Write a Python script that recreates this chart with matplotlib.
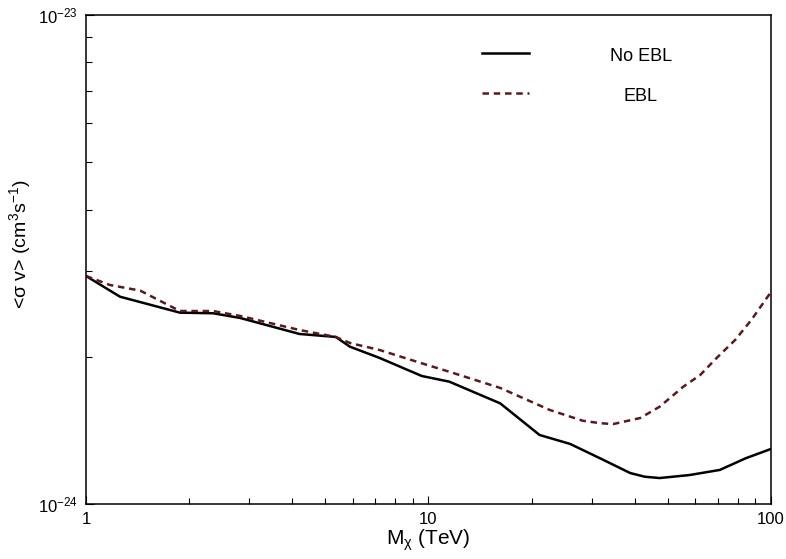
import matplotlib
matplotlib.use("Agg")
import matplotlib.pyplot as plt
from matplotlib.ticker import LogLocator, LogFormatterMathtext, NullFormatter, FixedLocator, FixedFormatter

plt.rcParams['font.family'] = ['Liberation Sans', 'DejaVu Sans']
plt.rcParams['mathtext.fontset'] = 'custom'
plt.rcParams['mathtext.rm'] = 'Liberation Sans'
plt.rcParams['mathtext.it'] = 'Liberation Sans:italic'
plt.rcParams['mathtext.default'] = 'regular'

# Data (M in TeV, <sigma v> in units of 1e-24 cm^3 s^-1)
m_noebl = [1.0, 1.257, 1.88, 2.35, 2.82, 4.2, 5.36, 5.9, 7.2, 9.56, 11.5, 16.2,
           21.1, 25.9, 31.7, 38.8, 42.8, 47.3, 57.8, 70.9, 84.3, 100.0]
sv_noebl = [2.926, 2.654, 2.462, 2.455, 2.401, 2.227, 2.196, 2.097, 1.989, 1.827, 1.779, 1.606,
            1.384, 1.327, 1.240, 1.157, 1.137, 1.130, 1.146, 1.174, 1.240, 1.296]

m_ebl = [1.0, 1.175, 1.44, 1.88, 2.35, 2.82, 4.2, 5.36, 5.9, 7.2, 9.44, 11.5, 16.2,
         22.6, 28.2, 31.7, 34.6, 41.5, 47.3, 55.5, 62.1, 69.4, 78.6, 87.6, 100.0]
sv_ebl = [2.926, 2.804, 2.731, 2.481, 2.481, 2.424, 2.269, 2.196, 2.134, 2.065, 1.945, 1.864, 1.727,
          1.557, 1.480, 1.463, 1.457, 1.499, 1.581, 1.738, 1.835, 1.989, 2.165, 2.378, 2.714]

scale = 1e-24
labels = ["No EBL", "EBL"]
ebl_color = '#5a1a1c'

fig = plt.figure(figsize=(7.86, 5.59), dpi=100)
ax = fig.add_axes([0.1094, 0.0984, 0.8715, 0.8748])

ax.plot(m_noebl, [v * scale for v in sv_noebl], color='black', lw=1.8,
        solid_joinstyle='round')
ax.plot(m_ebl, [v * scale for v in sv_ebl], color=ebl_color, lw=1.8, dashes=(2.6, 1.9))

ax.set_xscale('log')
ax.set_yscale('log')
ax.set_xlim(1, 100)
ax.set_ylim(1e-24, 1e-23)

ax.xaxis.set_major_locator(FixedLocator([1, 10, 100]))
ax.xaxis.set_major_formatter(FixedFormatter(['1', '10', '100']))
ax.xaxis.set_minor_locator(LogLocator(base=10, subs=range(2, 10)))
ax.xaxis.set_minor_formatter(NullFormatter())
ax.yaxis.set_major_locator(FixedLocator([1e-24, 1e-23]))
ax.yaxis.set_major_formatter(LogFormatterMathtext())
ax.yaxis.set_minor_locator(LogLocator(base=10, subs=range(2, 10)))
ax.yaxis.set_minor_formatter(NullFormatter())

ax.tick_params(which='both', direction='in', top=False, right=False, labelsize=12, width=0.8)
ax.tick_params(which='major', length=6, pad=6)
ax.tick_params(which='minor', length=4)
for s in ax.spines.values():
    s.set_linewidth(1.1)

ax.set_xlabel(r'M$_{\chi}$ (TeV)', fontsize=15, labelpad=0)
ax.set_ylabel(r'<$\sigma$ v> (cm$^{3}$s$^{-1}$)', fontsize=14)
ax.yaxis.set_label_coords(-0.077, 0.532)

# legend (manual, matching the original layout)
ax.plot([0.578, 0.647], [0.922, 0.922], transform=ax.transAxes, color='black', lw=1.8)
ax.plot([0.578, 0.647], [0.840, 0.840], transform=ax.transAxes, color=ebl_color, lw=1.8,
        dashes=(2.6, 1.9))
ax.text(0.810, 0.915, labels[0], transform=ax.transAxes, ha='center', va='center', fontsize=13)
ax.text(0.810, 0.833, labels[1], transform=ax.transAxes, ha='center', va='center', fontsize=13)

fig.savefig('out.png', dpi=100)
